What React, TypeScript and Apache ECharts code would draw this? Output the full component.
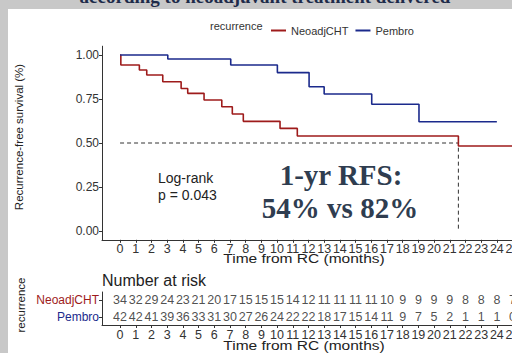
import React, { useEffect, useRef } from "react";
import * as echarts from "echarts";

const seriesNames = ["NeoadjCHT", "Pembro"];
const neoTimes = [0, 0.05, 1.23, 1.7, 2.72, 3.89, 4.31, 5.35, 6.48, 7.15, 7.85, 10.19, 11.29, 21.55, 26];
const neoSurv = [1, 0.943, 0.915, 0.886, 0.848, 0.81, 0.782, 0.744, 0.706, 0.665, 0.623, 0.583, 0.54, 0.483, 0.483];
const pemTimes = [0, 3.04, 7.05, 10.02, 12.04, 13.0, 16.03, 19.04, 24.0];
const pemSurv = [1, 0.977, 0.943, 0.9, 0.82, 0.778, 0.72, 0.621, 0.621];
const medianRefTime = 21.55;
const riskTimes = [0, 1, 2, 3, 4, 5, 6, 7, 8, 9, 10, 11, 12, 13, 14, 15, 16, 17, 18, 19, 20, 21, 22, 23, 24, 25];
const neoRisk = [34, 32, 29, 24, 23, 21, 20, 17, 15, 15, 15, 14, 12, 11, 11, 11, 11, 10, 9, 9, 9, 9, 8, 8, 8, 7];
const pemRisk = [42, 42, 41, 39, 36, 33, 31, 30, 27, 26, 24, 22, 22, 18, 17, 15, 14, 11, 9, 7, 5, 2, 1, 1, 1, 0];
const yTicks = [0, 0.25, 0.5, 0.75, 1];

const RED = "#9E1B1B";
const BLUE = "#1B2A8C";
const AX = "#333333";
const FONT = "'Liberation Sans', Arial, sans-serif";

export default function App() {
  const ref = useRef<HTMLDivElement>(null);
  useEffect(() => {
    if (!ref.current) return;
    const chart = echarts.init(ref.current, undefined, { renderer: "svg" });
    const xmin = -1.15;
    const xmax = 26;
    const pxPerUnit = 15.7;
    const gridW = (xmax - xmin) * pxPerUnit;
    const axisCommonX = {
      type: "value",
      min: xmin,
      max: xmax,
      splitLine: { show: false },
      axisLine: { show: true, onZero: false, lineStyle: { color: AX, width: 1 } },
      axisTick: { show: true, length: 3, inside: false, customValues: riskTimes, lineStyle: { color: AX } },
      axisLabel: { customValues: riskTimes, color: AX, fontSize: 12.5, fontFamily: FONT, margin: 3 },
    };
    const riskLabel = {
      show: true,
      position: "inside",
      formatter: (p: any) => String(p.value[2]),
      color: "#222",
      fontSize: 12.5,
      fontFamily: FONT,
    };
    const option: any = {
      animation: false,
      backgroundColor: "transparent",
      textStyle: { fontFamily: FONT },
      legend: {
        data: seriesNames,
        left: 266,
        top: 20,
        icon: "rect",
        itemWidth: 15,
        itemHeight: 2,
        itemGap: 7,
        textStyle: { fontSize: 11, color: AX, fontFamily: FONT },
      },
      grid: [
        { left: 102, top: 46.2, width: gridW, height: 193.6 },
        { left: 102, top: 292, width: gridW, height: 33 },
      ],
      xAxis: [
        { ...axisCommonX, gridIndex: 0 },
        { ...axisCommonX, gridIndex: 1 },
      ],
      yAxis: [
        {
          type: "value",
          gridIndex: 0,
          min: -0.05,
          max: 1.05,
          splitLine: { show: false },
          axisLine: { show: true, onZero: false, lineStyle: { color: AX, width: 1 } },
          axisTick: { show: true, length: 3, customValues: yTicks, lineStyle: { color: AX } },
          axisLabel: {
            customValues: yTicks,
            formatter: (v: number) => v.toFixed(2),
            color: AX,
            fontSize: 12,
            fontFamily: FONT,
            margin: 3,
          },
        },
        {
          type: "category",
          gridIndex: 1,
          data: seriesNames,
          inverse: true,
          splitLine: { show: false },
          axisLine: { show: true, onZero: false, lineStyle: { color: AX, width: 1 } },
          axisTick: { show: true, length: 3, alignWithLabel: true, lineStyle: { color: AX } },
          axisLabel: {
            fontSize: 12,
            fontFamily: FONT,
            margin: 3,
            color: (v: string) => (v === "NeoadjCHT" ? RED : BLUE),
          },
        },
      ],
      series: [
        {
          name: "NeoadjCHT",
          type: "line",
          step: "end",
          xAxisIndex: 0,
          yAxisIndex: 0,
          symbol: "none",
          color: RED,
          lineStyle: { color: RED, width: 1.6 },
          data: neoTimes.map((t, i) => [t, neoSurv[i]]),
          z: 3,
        },
        {
          name: "Pembro",
          type: "line",
          step: "end",
          xAxisIndex: 0,
          yAxisIndex: 0,
          symbol: "none",
          color: BLUE,
          lineStyle: { color: BLUE, width: 1.6 },
          data: pemTimes.map((t, i) => [t, pemSurv[i]]),
          z: 3,
        },
        {
          name: "median",
          type: "line",
          xAxisIndex: 0,
          yAxisIndex: 0,
          symbol: "none",
          silent: true,
          lineStyle: { color: AX, width: 1, type: [4, 3] },
          data: [
            [0, 0.5],
            [medianRefTime, 0.5],
            [medianRefTime, 0],
          ],
          z: 2,
        },
        {
          name: "riskNeo",
          type: "scatter",
          xAxisIndex: 1,
          yAxisIndex: 1,
          symbolSize: 1,
          itemStyle: { color: "rgba(0,0,0,0)" },
          label: riskLabel,
          data: riskTimes.map((t, i) => [t, "NeoadjCHT", neoRisk[i]]),
        },
        {
          name: "riskPem",
          type: "scatter",
          xAxisIndex: 1,
          yAxisIndex: 1,
          symbolSize: 1,
          itemStyle: { color: "rgba(0,0,0,0)" },
          label: riskLabel,
          data: riskTimes.map((t, i) => [t, "Pembro", pemRisk[i]]),
        },
      ],
      graphic: [
        {
          type: "text",
          z: -20,
          x: 265,
          y: 6,
          style: {
            text: "according to neoadjuvant treatment delivered",
            fill: "#1E2B4A",
            font: "bold 19px 'Liberation Serif', 'Times New Roman', serif",
            align: "center",
            verticalAlign: "bottom",
            textAlign: "center",
            textVerticalAlign: "bottom",
          },
        },
        {
          type: "rect",
          z: -10,
          shape: { x: 8, y: 9, width: 600, height: 400 },
          style: { fill: "#ffffff" },
        },
        {
          type: "text",
          x: 210,
          y: 25.7,
          style: {
            text: "recurrence",
            fill: AX,
            font: "11px " + FONT,
            textVerticalAlign: "middle",
          },
        },
        {
          type: "text",
          x: 19,
          y: 137,
          rotation: Math.PI / 2,
          style: {
            text: "Recurrence-free survival (%)",
            fill: "#222",
            font: "11.5px " + FONT,
            textAlign: "center",
            textVerticalAlign: "middle",
          },
        },
        {
          type: "text",
          x: 304,
          y: 258,
          scaleX: 1.15,
          style: {
            text: "Time from RC (months)",
            fill: "#222",
            font: "13.5px " + FONT,
            textAlign: "center",
            textVerticalAlign: "middle",
          },
        },
        {
          type: "text",
          x: 304,
          y: 345,
          scaleX: 1.15,
          style: {
            text: "Time from RC (months)",
            fill: "#222",
            font: "13.5px " + FONT,
            textAlign: "center",
            textVerticalAlign: "middle",
          },
        },
        {
          type: "text",
          x: 102,
          y: 280,
          style: {
            text: "Number at risk",
            fill: "#222",
            font: "16px " + FONT,
            textVerticalAlign: "middle",
          },
        },
        {
          type: "text",
          x: 21,
          y: 305,
          rotation: Math.PI / 2,
          style: {
            text: "recurrence",
            fill: "#222",
            font: "11.5px " + FONT,
            textAlign: "center",
            textVerticalAlign: "middle",
          },
        },
        {
          type: "text",
          x: 158,
          y: 178,
          style: {
            text: "Log-rank",
            fill: "#222",
            font: "14px " + FONT,
            textVerticalAlign: "middle",
          },
        },
        {
          type: "text",
          x: 158,
          y: 195,
          style: {
            text: "p = 0.043",
            fill: "#222",
            font: "14px " + FONT,
            textVerticalAlign: "middle",
          },
        },
        {
          type: "text",
          x: 341,
          y: 175,
          style: {
            text: "1-yr RFS:",
            fill: "#2F3D50",
            font: "bold 29px 'Liberation Serif', 'Times New Roman', serif",
            textAlign: "center",
            textVerticalAlign: "middle",
          },
        },
        {
          type: "text",
          x: 340,
          y: 208,
          style: {
            text: "54% vs 82%",
            fill: "#2F3D50",
            font: "bold 29px 'Liberation Serif', 'Times New Roman', serif",
            textAlign: "center",
            textVerticalAlign: "middle",
          },
        },
      ],
    };
    chart.setOption(option);
    return () => chart.dispose();
  }, []);
  return (
    <div
      style={{
        position: "absolute",
        left: 0,
        top: 0,
        width: 512,
        height: 353,
        overflow: "hidden",
        background: "#c8c8c8",
      }}
    >
      <div ref={ref} style={{ position: "absolute", left: 0, top: 0, width: 560, height: 353 }} />
    </div>
  );
}
